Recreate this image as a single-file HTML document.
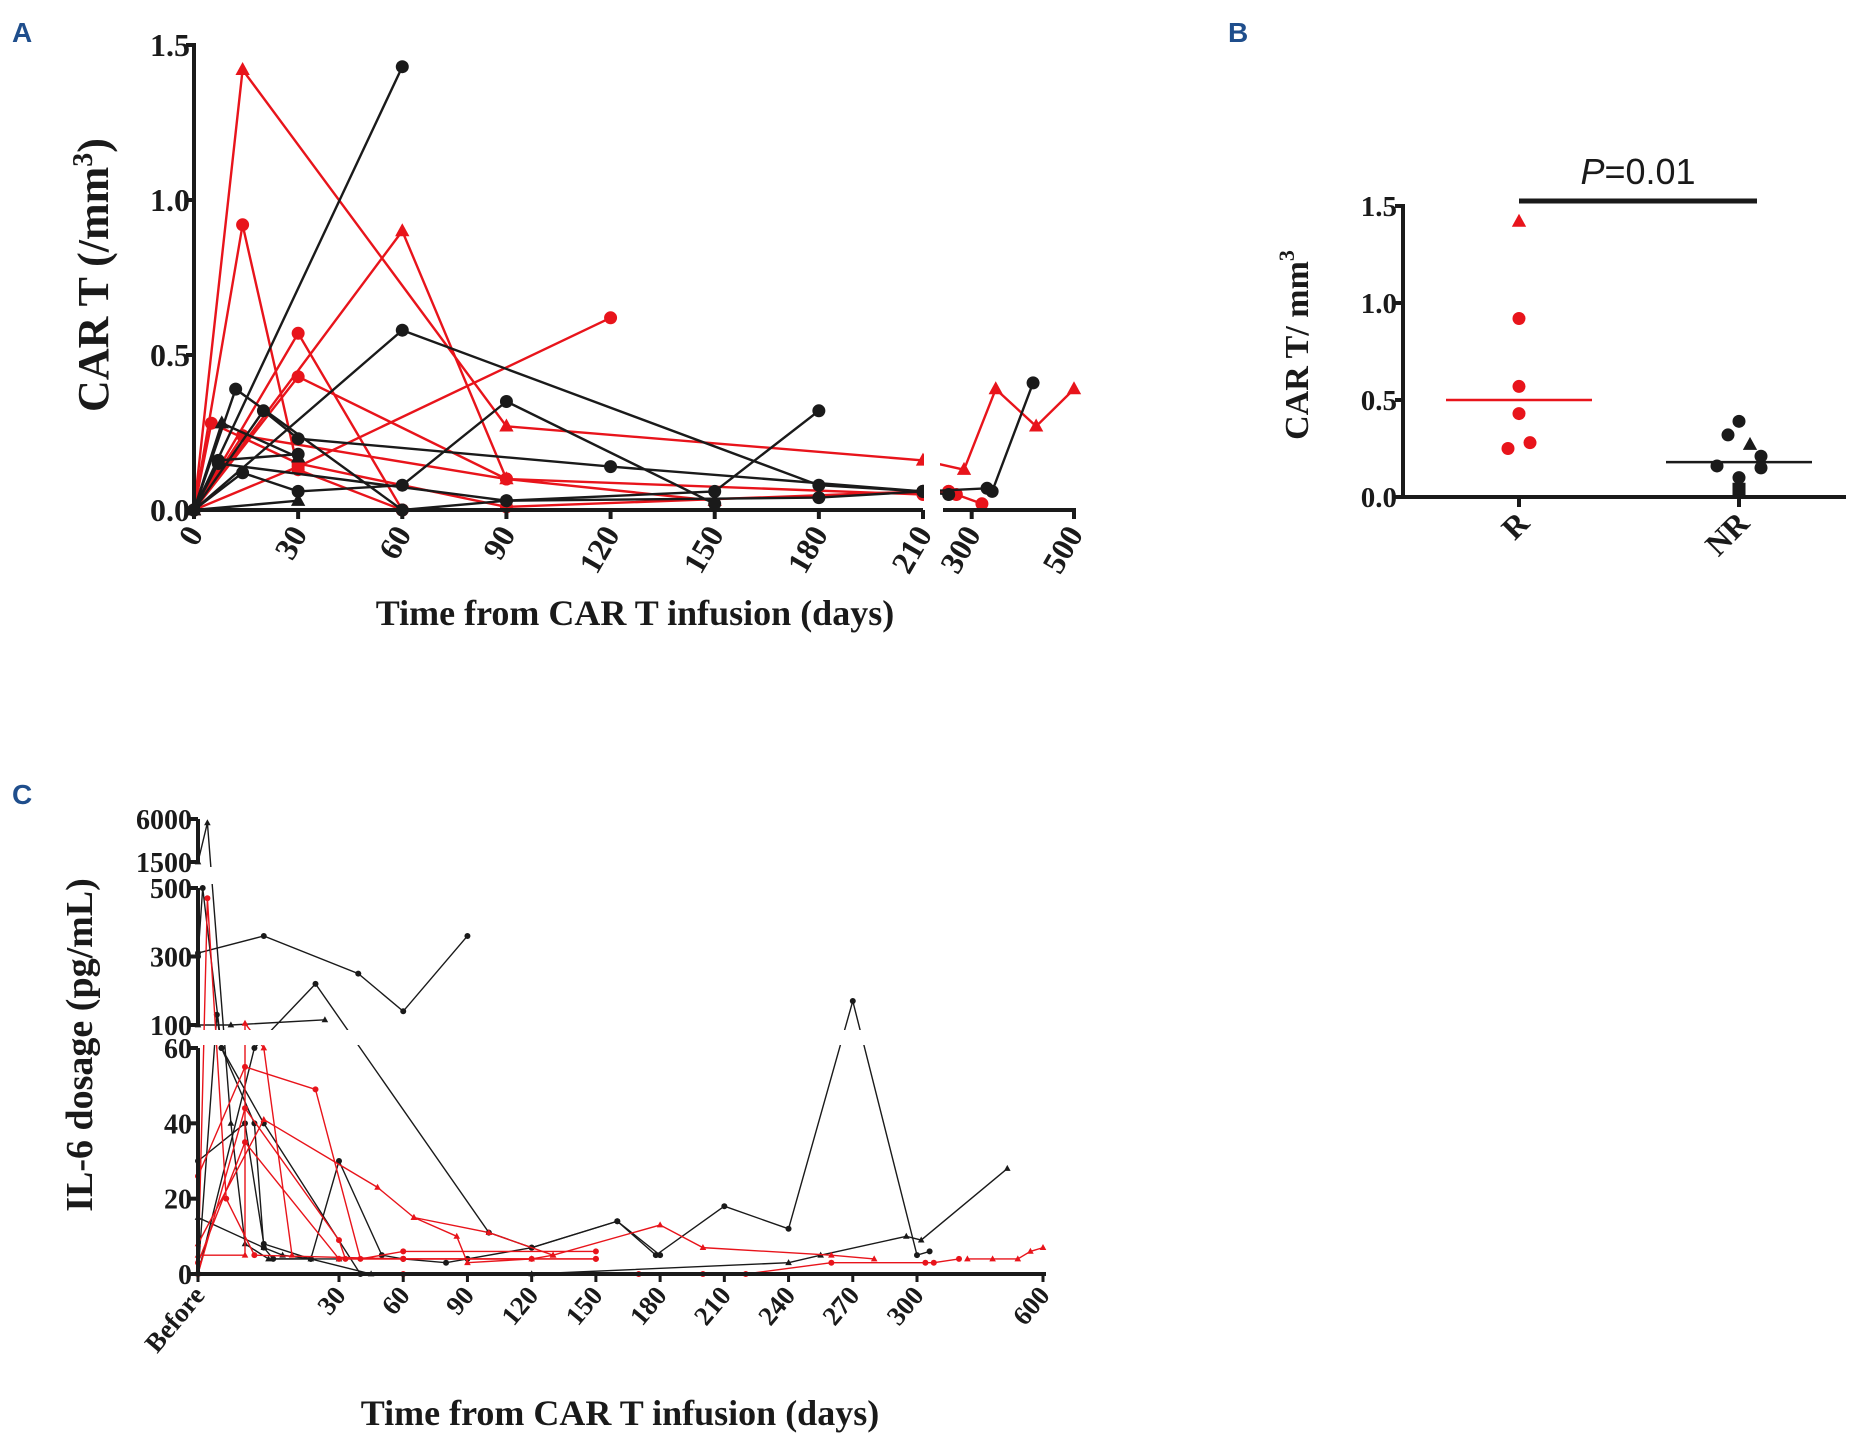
<!DOCTYPE html>
<html><head><meta charset="utf-8">
<style>
html,body{margin:0;padding:0;background:#fff;}
svg{display:block;}
text{font-family:"Liberation Serif",serif;font-weight:bold;fill:#1a1a1a;}
.lbl{font-family:"Liberation Sans",sans-serif;font-weight:bold;fill:#1f4e8c;}
</style></head>
<body>
<svg id="fig" width="1868" height="1455" viewBox="0 0 1868 1455" xmlns="http://www.w3.org/2000/svg">
<text class="lbl" x="12" y="42" font-size="28">A</text>
<text class="lbl" x="1228" y="42" font-size="28">B</text>
<text class="lbl" x="12" y="804" font-size="28">C</text>
<g id="pa"></g>
<g id="pb"></g>
<g id="pc"></g>
</svg>
<script>
// ---------- Panel A data ----------
const aTicksX = [0,30,60,90,120,150,180,210];
const aTicksX2 = [300,500];
const aTicksY = [0,0.5,1.0,1.5];
const aTickYLabels = ["0.0","0.5","1.0","1.5"];
const aColors = ["red","red","red","red","red","red","red","red","black","black","black","black","black","black","black","black","black"];
const aMarkers = ["tri","circ","tri","circ","circ","circ","circ","circ","circ","circ","circ","circ","circ","circ","tri","tri","circ"];
const aSeriesX = [
 [0,14,90,210,285,347,426,500],
 [0,14,30,60],
 [0,60,90,150],
 [0,30,60],
 [0,30,90],
 [0,30,120],
 [0,5,30,90,210,255,270,320],
 [0,14,90,210,255],
 [0,60],
 [0,60,180,210],
 [0,12,60,90,150,180],
 [0,20,30,120,210,330,340,420],
 [0,14,30,60,90,150],
 [0,7,30],
 [0,8,30],
 [0,30],
 [0,7,90,180,210,255]
];
const aSeriesY = [
 [0,1.42,0.27,0.16,0.13,0.39,0.27,0.39],
 [0,0.92,0.13,0.0],
 [0,0.90,0.10,0.03],
 [0,0.57,0.0],
 [0,0.43,0.10],
 [0,0.14,0.62],
 [0,0.28,0.15,0.01,0.06,0.06,0.05,0.02],
 [0,0.24,0.10,0.05,0.06],
 [0,1.43],
 [0,0.58,0.08,0.06],
 [0,0.39,0.0,0.03,0.06,0.32],
 [0,0.32,0.23,0.14,0.06,0.07,0.06,0.41],
 [0,0.12,0.06,0.08,0.35,0.02],
 [0,0.16,0.18],
 [0,0.28,0.17],
 [0,0.03],
 [0,0.15,0.03,0.04,0.06,0.05]
];
// ---------- Panel B data ----------
const bGroups = ["R","NR"];
const bRValues = [1.42,0.92,0.57,0.43,0.28,0.25];
const bRMarkers = ["tri","circ","circ","circ","circ","circ"];
const bROffsets = [0,0,0,0,1,-1];
const bNRValues = [0.39,0.32,0.27,0.21,0.15,0.16,0.10,0.04];
const bNRMarkers = ["circ","circ","tri","circ","circ","circ","circ","sq"];
const bNROffsets = [0,-1,1,2,2,-2,0,0];
const bMedians = [0.50,0.18];
const bTicksY = [0,0.5,1.0,1.5];
const bTickLabels = ["0.0","0.5","1.0","1.5"];
// ---------- Panel C data ----------
const cTicksX = [0,30,60,90,120,150,180,210,240,270,300,600];
const cTickXLabels = ["Before","30","60","90","120","150","180","210","240","270","300","600"];
const cTicksY = [0,20,40,60,100,300,500,1500,6000];
const cColors = ["black","black","black","black","black","black","black","black","black","red","red","red","red","red","red","red","red","red","red"];
const cMarkers = ["circ","tri","circ","circ","circ","tri","tri","circ","tri","circ","circ","circ","circ","tri","tri","tri","circ","circ","tri"];
const cSeriesX = [
 [0,14,39,60,90],
 [0,2,7,10,15,30],
 [0,1,5,14,40],
 [0,4,5,12,14,16,24],
 [0,12,25,100,120,160,178,210,240,270,300,330],
 [0,7,27],
 [0,14,18,24,45],
 [0,10,14,24,30,50,60,80,90,120,160,180],
 [120,240,255,295,310,515],
 [0,2,6,12,60,150],
 [0,10,25,40,60,150],
 [0,10,30,33,60,120],
 [0,10,30,60,150],
 [0,10,10,14,20],
 [0,14,48,65,100,130],
 [65,85,90,120,130,180,200,260,280],
 [0,60,170],
 [200,220,260,320,340,400],
 [420,480,540,570,600]
];
const cSeriesY = [
 [310,360,250,140,360],
 [1500,5600,40,8,4,4],
 [300,500,60,40,0],
 [0,130,60,40,7,4,4],
 [0,60,220,11,7,14,5,18,12,170,5,6],
 [100,100,115],
 [15,7,5,4,0],
 [30,40,8,4,30,5,4,3,4,7,14,5],
 [0,3,5,10,9,28],
 [0,470,20,5,4,4],
 [26,55,49,4,6,6],
 [0,44,9,4,4,4],
 [3,35,4,4,4],
 [5,5,105,60,5],
 [8,41,23,15,11,5],
 [15,10,3,4,5,13,7,5,4],
 [0,0,0],
 [0,0,3,3,3,4],
 [4,4,4,6,7]
];

const NS="http://www.w3.org/2000/svg";
function mk(parent,tag,attrs){const e=document.createElementNS(NS,tag);for(const k in attrs)e.setAttribute(k,attrs[k]);parent.appendChild(e);return e;}
function marker(g,type,x,y,r,col){
 let e;
 if(type==="circ") e=mk(g,"circle",{cx:x,cy:y,r:r,fill:col});
 else if(type==="tri") e=mk(g,"polygon",{points:`${x},${y-r*1.2} ${x-r*1.1},${y+r*0.8} ${x+r*1.1},${y+r*0.8}`,fill:col});
 else e=mk(g,"rect",{x:x-r,y:y-r,width:2*r,height:2*r,fill:col});
 return e;
}
const RED="#e8141b", BLK="#1a1a1a";
function colOf(c){return c==="red"?RED:BLK;}

// ---------- Panel A ----------
(function(){
 const g=document.getElementById("pa");
 const X0=194,X1=923,Y0=510,Y1=45;
 function ax(d){ if(d<=210) return X0+d/210*(X1-X0); return 941+(d-240)/260*(1074-941); }
 function ay(v){ return Y0-(v/1.5)*(Y0-Y1); }
 for(let i=0;i<aSeriesX.length;i++){
  const pts=aSeriesX[i].map((d,j)=>ax(d)+","+ay(aSeriesY[i][j])).join(" ");
  const pl=mk(g,"polyline",{points:pts,fill:"none",stroke:colOf(aColors[i]),"stroke-width":2.4});
  
  
  for(let j=0;j<aSeriesX[i].length;j++){
   const m=marker(g,aMarkers[i],ax(aSeriesX[i][j]),ay(aSeriesY[i][j]),6.5,colOf(aColors[i]));
   
   
  }
 }
 mk(g,"rect",{x:924,y:40,width:16,height:480,fill:"#fff"});
 const ya=mk(g,"line",{x1:X0,y1:Y1-2,x2:X0,y2:Y0+2,stroke:BLK,"stroke-width":4});
 
 const xa=mk(g,"line",{x1:X0,y1:Y0,x2:X1,y2:Y0,stroke:BLK,"stroke-width":4});
 
 const xa2=mk(g,"line",{x1:943,y1:Y0,x2:1076,y2:Y0,stroke:BLK,"stroke-width":4});
 
 aTicksY.forEach((v,i)=>{
  mk(g,"line",{x1:X0-8,y1:ay(v),x2:X0,y2:ay(v),stroke:BLK,"stroke-width":4});
  const t=mk(g,"text",{x:X0-4,y:ay(v)+11,"font-size":32,"text-anchor":"end"});t.textContent=aTickYLabels[i];
  
 });
 aTicksX.concat(aTicksX2).forEach(d=>{
  const x=ax(d);
  mk(g,"line",{x1:x,y1:Y0,x2:x,y2:Y0+9,stroke:BLK,"stroke-width":4});
  const t=mk(g,"text",{x:0,y:0,"font-size":32,"text-anchor":"end",transform:`translate(${x+10},${Y0+24}) rotate(-60)`});t.textContent=String(d);
  
 });
 const yl=mk(g,"text",{x:0,y:0,"font-size":44,"text-anchor":"middle",transform:"translate(108,275) rotate(-90)"});
 yl.innerHTML='CAR T (/mm<tspan dy="-16" font-size="28">3</tspan><tspan dy="16">)</tspan>';
 
 const xl=mk(g,"text",{x:635,y:625,"font-size":36,"text-anchor":"middle"});xl.textContent="Time from CAR T infusion (days)";
 
})();

// ---------- Panel B ----------
(function(){
 const g=document.getElementById("pb");
 const X0=1403,X1=1846,Y0=497,Y1=206;
 const gx=[1519,1739];
 function by(v){return Y0-(v/1.5)*(Y0-Y1);}
 const ya=mk(g,"line",{x1:X0,y1:Y1-2,x2:X0,y2:Y0+2,stroke:BLK,"stroke-width":4});
 
 const xa=mk(g,"line",{x1:X0,y1:Y0,x2:X1,y2:Y0,stroke:BLK,"stroke-width":4});
 
 bTicksY.forEach((v,i)=>{
  mk(g,"line",{x1:X0-8,y1:by(v),x2:X0,y2:by(v),stroke:BLK,"stroke-width":4});
  const t=mk(g,"text",{x:X0-6,y:by(v)+10,"font-size":29,"text-anchor":"end"});t.textContent=bTickLabels[i];
  
 });
 bGroups.forEach((name,i)=>{
  mk(g,"line",{x1:gx[i],y1:Y0,x2:gx[i],y2:Y0+10,stroke:BLK,"stroke-width":4});
  const t=mk(g,"text",{x:0,y:0,"font-size":32,"text-anchor":"end",transform:`translate(${gx[i]+12},${Y0+28}) rotate(-45)`});t.textContent=name;
  
 });
 bRValues.forEach((v,i)=>{
  const m=marker(g,bRMarkers[i],gx[0]+bROffsets[i]*11,by(v),6.5,RED);
  
 });
 bNRValues.forEach((v,i)=>{
  const m=marker(g,bNRMarkers[i],gx[1]+bNROffsets[i]*11,by(v),6.5,BLK);
  
 });
 const m1=mk(g,"line",{x1:gx[0]-73,y1:by(bMedians[0]),x2:gx[0]+73,y2:by(bMedians[0]),stroke:RED,"stroke-width":2.5});
 
 const m2=mk(g,"line",{x1:gx[1]-73,y1:by(bMedians[1]),x2:gx[1]+73,y2:by(bMedians[1]),stroke:BLK,"stroke-width":2.5});
 
 const bar=mk(g,"line",{x1:1519,y1:201,x2:1757,y2:201,stroke:BLK,"stroke-width":5});
 
 const p=mk(g,"text",{x:1638,y:184,"font-size":36,"text-anchor":"middle",style:"font-family:'Liberation Sans',sans-serif;font-weight:normal"});
 p.innerHTML='<tspan font-style="italic">P</tspan>=0.01';
 
 const yl=mk(g,"text",{x:0,y:0,"font-size":34,"text-anchor":"middle",transform:"translate(1308,345) rotate(-90)"});
 yl.innerHTML='CAR T/ mm<tspan dy="-14" font-size="22">3</tspan>';
 
})();

// ---------- Panel C ----------
(function(){
 const g=document.getElementById("pc");
 const X0=198,X1=1046;
 function cx(d){ if(d<=30) return 198+d/30*141; if(d<=300) return 339+(d-30)/270*578; return 917+(d-300)/300*126; }
 function cy(v){
  if(v<=60) return 1274-v/60*226;
  if(v<=100) return 1048-(v-60)/40*23;
  if(v<=500) return 1025-(v-100)/400*137;
  if(v<=1500) return 888-(v-500)/1000*26;
  return 862-(v-1500)/4500*43;
 }
 for(let i=0;i<cSeriesX.length;i++){
  const pts=cSeriesX[i].map((d,j)=>cx(d)+","+cy(cSeriesY[i][j])).join(" ");
  const pl=mk(g,"polyline",{points:pts,fill:"none",stroke:colOf(cColors[i]),"stroke-width":1.4});
  
  for(let j=0;j<cSeriesX[i].length;j++){
   const m=marker(g,cMarkers[i],cx(cSeriesX[i][j]),cy(cSeriesY[i][j]),3,colOf(cColors[i]));
   
  }
 }
 mk(g,"rect",{x:200,y:1030,width:860,height:15,fill:"#fff"});
 mk(g,"rect",{x:200,y:867,width:30,height:17,fill:"#fff"});
 const ya1=mk(g,"line",{x1:X0,y1:1048,x2:X0,y2:1276,stroke:BLK,"stroke-width":4});
 
 const ya2=mk(g,"line",{x1:X0,y1:888,x2:X0,y2:1027,stroke:BLK,"stroke-width":4});
 
 const ya3=mk(g,"line",{x1:X0,y1:819,x2:X0,y2:864,stroke:BLK,"stroke-width":4});
 
 const xa=mk(g,"line",{x1:X0,y1:1274,x2:X1,y2:1274,stroke:BLK,"stroke-width":4});
 
 cTicksY.forEach(v=>{
  mk(g,"line",{x1:X0-8,y1:cy(v),x2:X0,y2:cy(v),stroke:BLK,"stroke-width":4});
  const t=mk(g,"text",{x:X0-6,y:cy(v)+10,"font-size":28,"text-anchor":"end"});t.textContent=String(v);
  
 });
 cTicksX.forEach((d,i)=>{
  const x=cx(d);
  mk(g,"line",{x1:x,y1:1274,x2:x,y2:1282,stroke:BLK,"stroke-width":3});
  const t=mk(g,"text",{x:0,y:0,"font-size":27,"text-anchor":"end",transform:`translate(${x+8},${1296}) rotate(-50)`});t.textContent=cTickXLabels[i];
  
 });
 const yl=mk(g,"text",{x:0,y:0,"font-size":38,"text-anchor":"middle",transform:"translate(92,1045) rotate(-90)"});yl.textContent="IL-6 dosage (pg/mL)";
 
 const xl=mk(g,"text",{x:620,y:1425,"font-size":36,"text-anchor":"middle"});xl.textContent="Time from CAR T infusion (days)";
 
})();
</script>
</body></html>
